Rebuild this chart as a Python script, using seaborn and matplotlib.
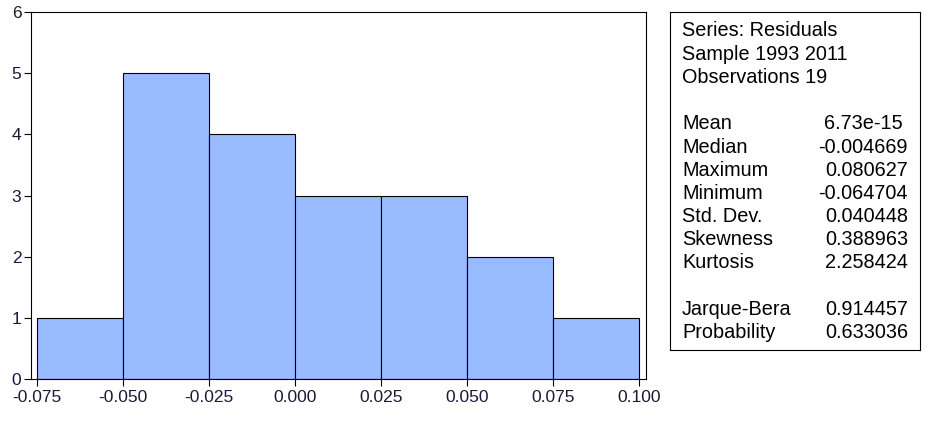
import numpy as np
import pandas as pd
import seaborn as sns
import matplotlib
matplotlib.use('Agg')
import matplotlib.pyplot as plt

# histogram of residuals (EViews style)
bin_edges = [-0.075, -0.050, -0.025, 0.000, 0.025, 0.050, 0.075, 0.100]
counts = [1, 5, 4, 3, 3, 2, 1]
x_ticks = [-0.075, -0.050, -0.025, 0.000, 0.025, 0.050, 0.075, 0.100]
y_ticks = [0, 1, 2, 3, 4, 5, 6]

stat_names = ['Mean', 'Median', 'Maximum', 'Minimum', 'Std. Dev.', 'Skewness', 'Kurtosis']
stat_values = ['6.73e-15 ', '-0.004669', '0.080627', '-0.064704', '0.040448', '0.388963', '2.258424']
test_names = ['Jarque-Bera', 'Probability']
test_values = ['0.914457', '0.633036']
header = ['Series: Residuals', 'Sample 1993 2011', 'Observations 19']

sns.set_style('white')
plt.rcParams['font.family'] = ['Liberation Sans', 'DejaVu Sans']
plt.rcParams['text.color'] = 'black'

centers = [(bin_edges[i] + bin_edges[i + 1]) / 2 for i in range(len(counts))]
df = pd.DataFrame({'x': centers, 'n': counts})

fig = plt.figure(figsize=(9.28, 4.23), dpi=100)
ax = fig.add_axes([31 / 928, 44 / 423, 615 / 928, 367 / 423])
sns.histplot(data=df, x='x', weights='n', bins=bin_edges, ax=ax,
             color='#99bbff', alpha=1, edgecolor='black', linewidth=0.8)

ax.set_xlim(-0.0767, 0.1020)
ax.set_ylim(0, 6)
ax.set_xticks(x_ticks)
ax.set_xticklabels([f'{v:.3f}' for v in x_ticks])
ax.set_yticks(y_ticks)
ax.set_xlabel('')
ax.set_ylabel('')
ax.tick_params(axis='both', direction='out', length=5, width=0.8, labelsize=12.5,
               bottom=True, left=True, colors='black', labelcolor='#1a1a3a')
ax.tick_params(axis='y', pad=2)
ax.tick_params(axis='x', pad=3)
for s in ax.spines.values():
    s.set_color('black')
    s.set_linewidth(0.8)

# stats box
box = fig.add_axes([670 / 928, (423 - 350) / 423, 250 / 928, 338 / 423])
box.set_xticks([])
box.set_yticks([])
box.set_xlim(0, 250)
box.set_ylim(338, 0)
for s in box.spines.values():
    s.set_color('black')
    s.set_linewidth(0.8)

fs = 14.3
y = 19
for h in header:
    box.text(12, y, h, fontsize=fs, va='center', ha='left')
    y += 23.2
y += 23.2
for nm, v in zip(stat_names, stat_values):
    box.text(12, y, nm, fontsize=fs, va='center', ha='left')
    box.text(238, y, v, fontsize=fs, va='center', ha='right')
    y += 23.2
y += 23.2
for nm, v in zip(test_names, test_values):
    box.text(12, y, nm, fontsize=fs, va='center', ha='left')
    box.text(238, y, v, fontsize=fs, va='center', ha='right')
    y += 23.2

fig.savefig('out.png', dpi=100)
